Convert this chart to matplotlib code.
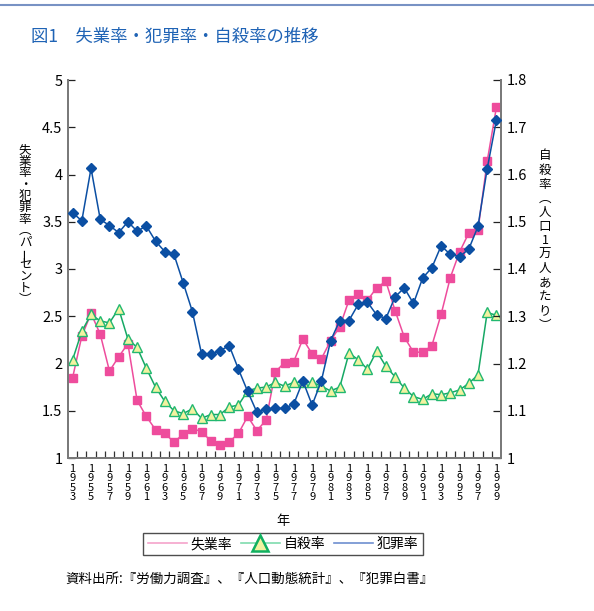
import matplotlib
matplotlib.use('Agg')
import matplotlib.pyplot as plt
from matplotlib.lines import Line2D

plt.rcParams['font.family'] = ['Noto Sans CJK JP', 'DejaVu Sans']

# 1953 - 1999
years = list(range(1953, 2000))

# 失業率 (%)
unemployment = [1.85, 2.29, 2.53, 2.31, 1.92, 2.07, 2.21, 1.61, 1.44, 1.30,
                1.26, 1.17, 1.25, 1.31, 1.28, 1.18, 1.14, 1.17, 1.26, 1.44,
                1.29, 1.40, 1.91, 2.01, 2.02, 2.26, 2.10, 2.05, 2.24, 2.39,
                2.67, 2.74, 2.67, 2.80, 2.87, 2.56, 2.28, 2.12, 2.12, 2.19,
                2.52, 2.91, 3.18, 3.38, 3.41, 4.14, 4.71]

# 自殺率 (人口1万人あたり)
suicide = [2.04, 2.34, 2.52, 2.45, 2.43, 2.58, 2.26, 2.17, 1.95, 1.75,
           1.60, 1.50, 1.47, 1.52, 1.42, 1.46, 1.46, 1.54, 1.56, 1.71,
           1.74, 1.75, 1.80, 1.76, 1.80, 1.80, 1.80, 1.76, 1.71, 1.75,
           2.11, 2.04, 1.94, 2.13, 1.97, 1.86, 1.74, 1.65, 1.62, 1.68,
           1.67, 1.69, 1.72, 1.79, 1.88, 2.54, 2.51]

# 犯罪率 (%)
crime = [1.519, 1.502, 1.613, 1.505, 1.492, 1.477, 1.500, 1.480, 1.491, 1.459,
         1.437, 1.431, 1.371, 1.310, 1.220, 1.220, 1.227, 1.238, 1.188, 1.141,
         1.097, 1.103, 1.105, 1.105, 1.114, 1.163, 1.112, 1.163, 1.248, 1.291,
         1.291, 1.325, 1.330, 1.303, 1.295, 1.341, 1.360, 1.327, 1.381, 1.403,
         1.449, 1.431, 1.426, 1.442, 1.490, 1.612, 1.715]

left_ticks = [1, 1.5, 2, 2.5, 3, 3.5, 4, 4.5, 5]
right_ticks = [1, 1.1, 1.2, 1.3, 1.4, 1.5, 1.6, 1.7, 1.8]

pink = '#ee4c9c'
green = '#16a864'
blue = '#0b4fa3'

W, H = 594, 611
fig = plt.figure(figsize=(W / 100, H / 100), dpi=100)
ax = fig.add_axes([68 / W, 1 - 458 / H, 433 / W, 378 / H])
ax2 = ax.twinx()

x = list(range(len(years)))

ax.plot(x, unemployment, color=pink, lw=1.1, marker='s', ms=6,
        mfc=pink, mec=pink, zorder=3)
ax.plot(x, suicide, color=green, lw=1.1, marker='^', ms=6.5,
        mfc='#f2f2a0', mec='#22b870', mew=1.0, zorder=4)
ax2.plot(x, crime, color=blue, lw=1.1, marker='D', ms=5.5,
         mfc=blue, mec=blue, zorder=3)

ax.set_xlim(-0.5, len(years) - 0.5)
ax.set_ylim(1, 5)
ax2.set_ylim(1, 1.8)

ax.set_yticks(left_ticks)
ax.set_yticklabels([f'{v:g}' for v in left_ticks], fontsize=10.5)
ax2.set_yticks(right_ticks)
ax2.set_yticklabels([f'{v:g}' for v in right_ticks], fontsize=10.5)

# year labels every other year, tick marks between categories
lab_pos = [i for i, y in enumerate(years) if y % 2 == 1]
ax.set_xticks(lab_pos)
ax.set_xticklabels(['\n'.join(str(years[i])) for i in lab_pos],
                   fontsize=8, linespacing=0.95)
ax.set_xticks([i + 0.5 for i in range(len(years) - 1)], minor=True)
ax.tick_params(axis='x', which='major', length=0, pad=4)
ax.tick_params(axis='x', which='minor', direction='in', length=5,
               width=0.9, color='#333333')
ax.tick_params(axis='y', direction='in', length=5, width=0.9,
               color='#222222', pad=4)
ax2.tick_params(axis='y', direction='in', length=6, width=0.9,
                color='#222222', pad=4)

for a in (ax, ax2):
    a.spines['top'].set_visible(False)
    for s in ('left', 'right', 'bottom'):
        a.spines[s].set_color('#7a7a7a')
        a.spines[s].set_linewidth(1.4)


def vertical_text(chars, xc, y_top, step, size):
    # stack characters top to bottom, long vowel mark turned upright
    for i, ch in enumerate(chars):
        rot = 90 if ch == 'ー' else 0
        fig.text(xc / W, 1 - (y_top + i * step) / H, ch, fontsize=size,
                 ha='center', va='center', rotation=rot)


vertical_text('失業率・犯罪率︵パーセント︶', 25, 150, 11.5, 9)
vertical_text('自殺率︵人口1万人あたり︶', 545, 156, 14.1, 9)

fig.text(283 / W, 1 - 522 / H, '年', fontsize=9.5, ha='center', va='center')

fig.text(31 / W, 1 - 37 / H, '図1　失業率・犯罪率・自殺率の推移',
         fontsize=12.5, color='#1f63b5', ha='left', va='center')
fig.add_artist(Line2D([0, 1], [1 - 5 / H, 1 - 5 / H], color='#7892c4',
                      lw=1.5, transform=fig.transFigure))

handles = [
    Line2D([], [], color='#f5a3cb', lw=1.2),
    Line2D([], [], color='#7fdcae', lw=1.2, marker='^', ms=11,
           mfc='#f2f2a0', mec='#10b060', mew=1.8),
    Line2D([], [], color='#6e8fd0', lw=1.2),
]
leg = fig.legend(handles, ['失業率', '自殺率', '犯罪率'], ncol=3,
                 loc='center', bbox_to_anchor=(283 / W, 1 - 544 / H),
                 fontsize=10, frameon=True, fancybox=False, handlelength=2.8,
                 handletextpad=0.3, columnspacing=0.6, borderpad=0.3)
leg.get_frame().set_edgecolor('#222222')
leg.get_frame().set_linewidth(1.0)

fig.text(65 / W, 1 - 579 / H, '資料出所:『労働力調査』、『人口動態統計』、『犯罪白書』',
         fontsize=9.7, ha='left', va='center')

fig.savefig('out.png', dpi=100)
